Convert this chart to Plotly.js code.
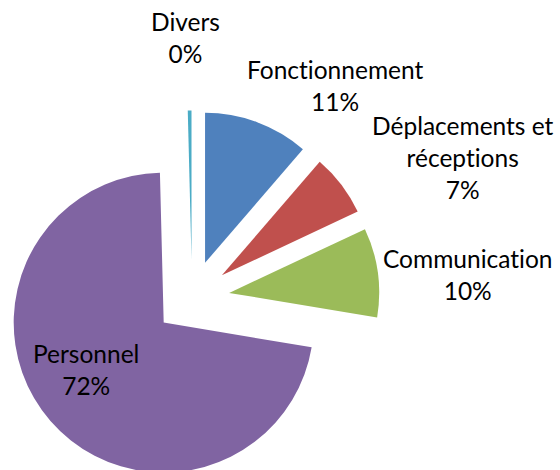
<!DOCTYPE html>
<html>
<head>
<meta charset="utf-8">
<script src="https://cdn.plot.ly/plotly-3.0.1.min.js"></script>
<style>
html, body { margin: 0; padding: 0; overflow: hidden; background: #fff; }
#chart { width: 560px; height: 540px; }
text { font-variant-ligatures: none; font-feature-settings: "liga" 0; }
</style>
</head>
<body>
<div id="chart"></div>
<script>
// Data
const categories = ["Fonctionnement", "Déplacements et<br>réceptions", "Communication", "Personnel", "Divers"];
const values = [11.3, 6.7, 9.6, 71.9, 0.4];
const colors = ["#4F81BD", "#C0504D", "#9BBB59", "#8064A2", "#4BACC6"];

// Label placement (pixel centres in the 560 x 470 picture)
const labelPos = [[335, 85], [463, 157], [467, 274], [86, 369], [185, 37]];

const W = 560, H = 540;
const total = values.reduce((a, b) => a + b, 0);
const annotations = categories.map((c, i) => ({
  xref: "paper", yref: "paper",
  x: labelPos[i][0] / W, y: 1 - labelPos[i][1] / H,
  xanchor: "center", yanchor: "middle", align: "center",
  showarrow: false,
  text: c + "<br>" + Math.round(values[i] / total * 100) + "%",
  font: { family: "Lato, 'Open Sans', sans-serif", size: 24.5, color: "#000" }
}));

const cx = 192, cy = 298, r = 150, pull = 0.25;
const half = r * (1 + pull);

const trace = {
  type: "pie",
  labels: categories,
  values: values,
  sort: false,
  direction: "clockwise",
  rotation: 0,
  pull: values.map(() => pull),
  marker: { colors: colors, line: { width: 0 } },
  textinfo: "none",
  hoverinfo: "label+percent",
  showlegend: false,
  domain: {
    x: [(cx - half) / W, (cx + half) / W],
    y: [1 - (cy + half) / H, 1 - (cy - half) / H]
  }
};

const layout = {
  width: W, height: H,
  margin: { l: 0, r: 0, t: 0, b: 0 },
  paper_bgcolor: "#fff",
  showlegend: false,
  annotations: annotations
};

Plotly.newPlot("chart", [trace], layout, { displayModeBar: false, staticPlot: true });
</script>
</body>
</html>
